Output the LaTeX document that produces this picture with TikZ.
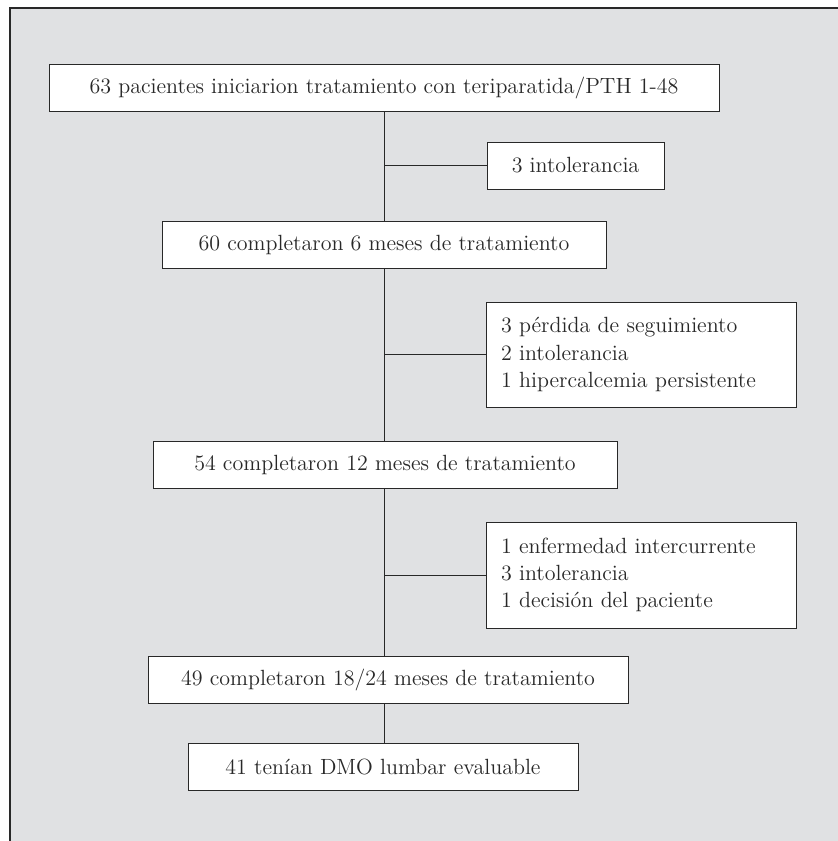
\documentclass[tikz,border=0pt]{standalone}
\usepackage{tikz}
\usetikzlibrary{positioning,backgrounds}
\definecolor{panelgrey}{RGB}{224,225,227}
\definecolor{inkgrey}{RGB}{40,40,40}
\tikzset{line width=0.75pt}
\tikzset{stage/.style={draw=inkgrey,fill=white,minimum height=23.5pt,inner sep=0pt,
        text=inkgrey,font=\fontsize{11}{13}\selectfont}}
\tikzset{loss/.style={draw=inkgrey,fill=white,inner sep=0pt,align=left,
        text=inkgrey,font=\fontsize{11}{13.6}\selectfont}}

\begin{document}
\begin{tikzpicture}[x=0.5pt,y=-0.5pt]
                    \useasboundingbox (0,0) rectangle (838,841);
                    \fill[panelgrey] (10,8) rectangle (838,841);
                    \draw[inkgrey,line width=1.2pt] (10,841) -- (10,8) -- (838,8);
                    \node[stage,minimum width=335pt] (s63) at (384,87.5)
                        {63 pacientes iniciarion tratamiento con teriparatida/PTH 1-48};
                    \node[stage,minimum width=88.5pt] (l1) at (575.5,165.5) {3 intolerancia};
                    \node[stage,minimum width=222pt] (s60) at (384,244.5)
                        {60 completaron 6 meses de tratamiento};
                    \node[loss,text width=140pt,minimum height=52.5pt,inner xsep=7.5pt] (l2) at (641,354.5)
                        {3 pérdida de seguimiento\\2 intolerancia\\1 hipercalcemia persistente};
                    \node[stage,minimum width=232pt] (s54) at (385,465)
                        {54 completaron 12 meses de tratamiento};
                    \node[loss,text width=140pt,minimum height=53pt,inner xsep=7.5pt] (l3) at (641,575)
                        {1 enfermedad intercurrente\\3 intolerancia\\1 decisión del paciente};
                    \node[stage,minimum width=240pt] (s49) at (388,679.5)
                        {49 completaron 18/24 meses de tratamiento};
                    \node[stage,minimum width=195pt] (s41) at (383,766.5)
                        {41 tenían DMO lumbar evaluable};
                    \path[draw=inkgrey]
                        (s63.south -| 384,0) edge (s60.north -| 384,0)
                        (s60.south -| 384,0) edge (s54.north -| 384,0)
                        (s54.south -| 384,0) edge (s49.north -| 384,0)
                        (s49.south -| 384,0) edge (s41.north -| 384,0)
                        (l1.west) edge (l1.west -| 384,0)
                        (l2.west) edge (l2.west -| 384,0)
                        (l3.west) edge (l3.west -| 384,0)
                    ;
                \end{tikzpicture}
\end{document}
